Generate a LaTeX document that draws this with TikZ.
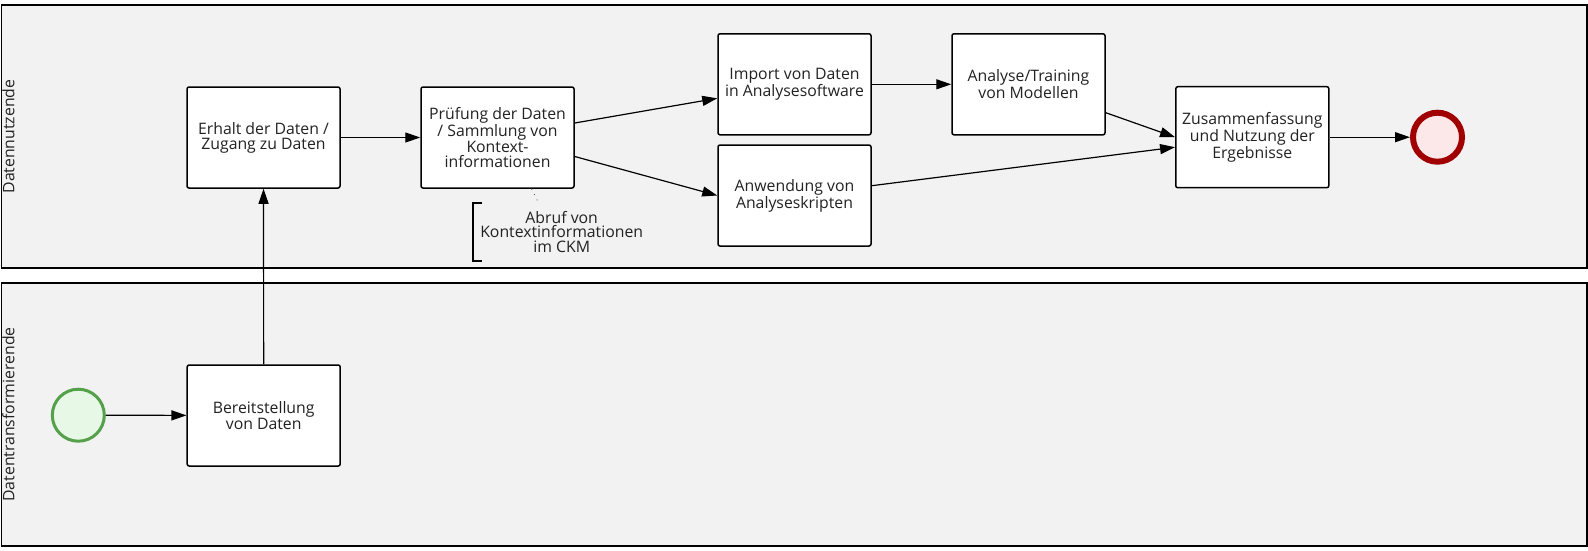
\documentclass[tikz,border=0pt]{standalone}
\usepackage{fontspec}
\setmainfont{Open Sans}
\usetikzlibrary{arrows.meta}
\definecolor{lanefill}{HTML}{F2F2F2}
\definecolor{txt}{HTML}{222222}
\definecolor{startline}{HTML}{55A04A}
\definecolor{startfill}{HTML}{E8F8E6}
\definecolor{endline}{HTML}{A00000}
\definecolor{endfill}{HTML}{FCE8E8}
\tikzset{
  lane/.style={draw=black, fill=lanefill, line width=1.2pt},
  lanelabel/.style={rotate=90, font=\fontsize{15.8}{14.8}\selectfont, text=txt, inner sep=0pt},
  task/.style={draw=black, fill=white, rounded corners=2pt, line width=1.5pt,
    minimum width=153pt, minimum height=101pt, align=center, inner sep=2pt,
    font=\fontsize{15.8}{14.8}\selectfont, text=txt},
  flow/.style={line width=1.2pt, draw=black, -{Triangle[length=15pt,width=10pt]}},
  annot/.style={align=center, font=\fontsize{15.8}{14.8}\selectfont, text=txt,
    minimum width=177pt, minimum height=57.4pt, inner sep=0pt},
  bracket/.style={line width=1.3pt, draw=black},
  assoc/.style={line width=0.9pt, draw=black!60, dash pattern=on 1pt off 5pt},
}
\begin{document}
\begin{tikzpicture}[x=1pt,y=-1pt]
\useasboundingbox (0,0) rectangle (1588,550);
% lanes
\draw[lane] (1.5,5) rectangle (1587,268);
\draw[lane] (1.5,283) rectangle (1587,546);
\node[lanelabel] (l1) at (8.5,136.5) {Datennutzende};
\node[lanelabel] (l2) at (8.5,414.5) {Datentransformierende};
% events
\node[circle, draw=startline, fill=startfill, line width=3pt, minimum size=52pt, inner sep=0pt] (start) at (78.3,415.2) {};
\node[circle, draw=endline, fill=endfill, line width=6pt, minimum size=49pt, inner sep=0pt] (end) at (1437.5,137.2) {};
% tasks
\node[task] (erhalt) at (263.5,137.5) {Erhalt der Daten /\\Zugang zu Daten};
\node[task] (pruef) at (497.5,137.5) {Prüfung der Daten\\/ Sammlung von\\Kontext-\\informationen};
\node[task] (imp) at (794.5,84.3) {Import von Daten\\in Analysesoftware};
\node[task] (anw) at (794.5,195.5) {Anwendung von\\Analyseskripten};
\node[task] (ana) at (1028.5,84.3) {Analyse/Training\\von Modellen};
\node[task] (zus) at (1252.3,137.2) {Zusammenfassung\\und Nutzung der\\Ergebnisse};
\node[task] (bereit) at (263.7,415.5) {Bereitstellung\\von Daten};
% annotation
\node[annot] (note) at (561.7,232) {Abruf von\\Kontextinformationen\\im CKM};
\draw[bracket] ([xshift=9.4pt]note.north west) -- (note.north west) -- (note.south west) -- ([xshift=9.4pt]note.south west);
\draw[assoc] ([xshift=34pt]pruef.south) -- ([xshift=65.7pt]note.north west);
% flows
\draw[flow] (start) -- (bereit);
\draw[flow] (bereit) -- (erhalt);
\draw[flow] (erhalt) -- (pruef);
\draw[flow] ([yshift=14.5pt]pruef.east) -- ([yshift=-14pt]imp.west);
\draw[flow] ([yshift=-19pt]pruef.east) -- (anw.west);
\draw[flow] (imp) -- (ana);
\draw[flow] ([yshift=-28.4pt]ana.east) -- (zus.west);
\draw[flow] ([yshift=9.8pt]anw.east) -- ([yshift=-10pt]zus.west);
\draw[flow] (zus) -- (end);
\end{tikzpicture}
\end{document}
